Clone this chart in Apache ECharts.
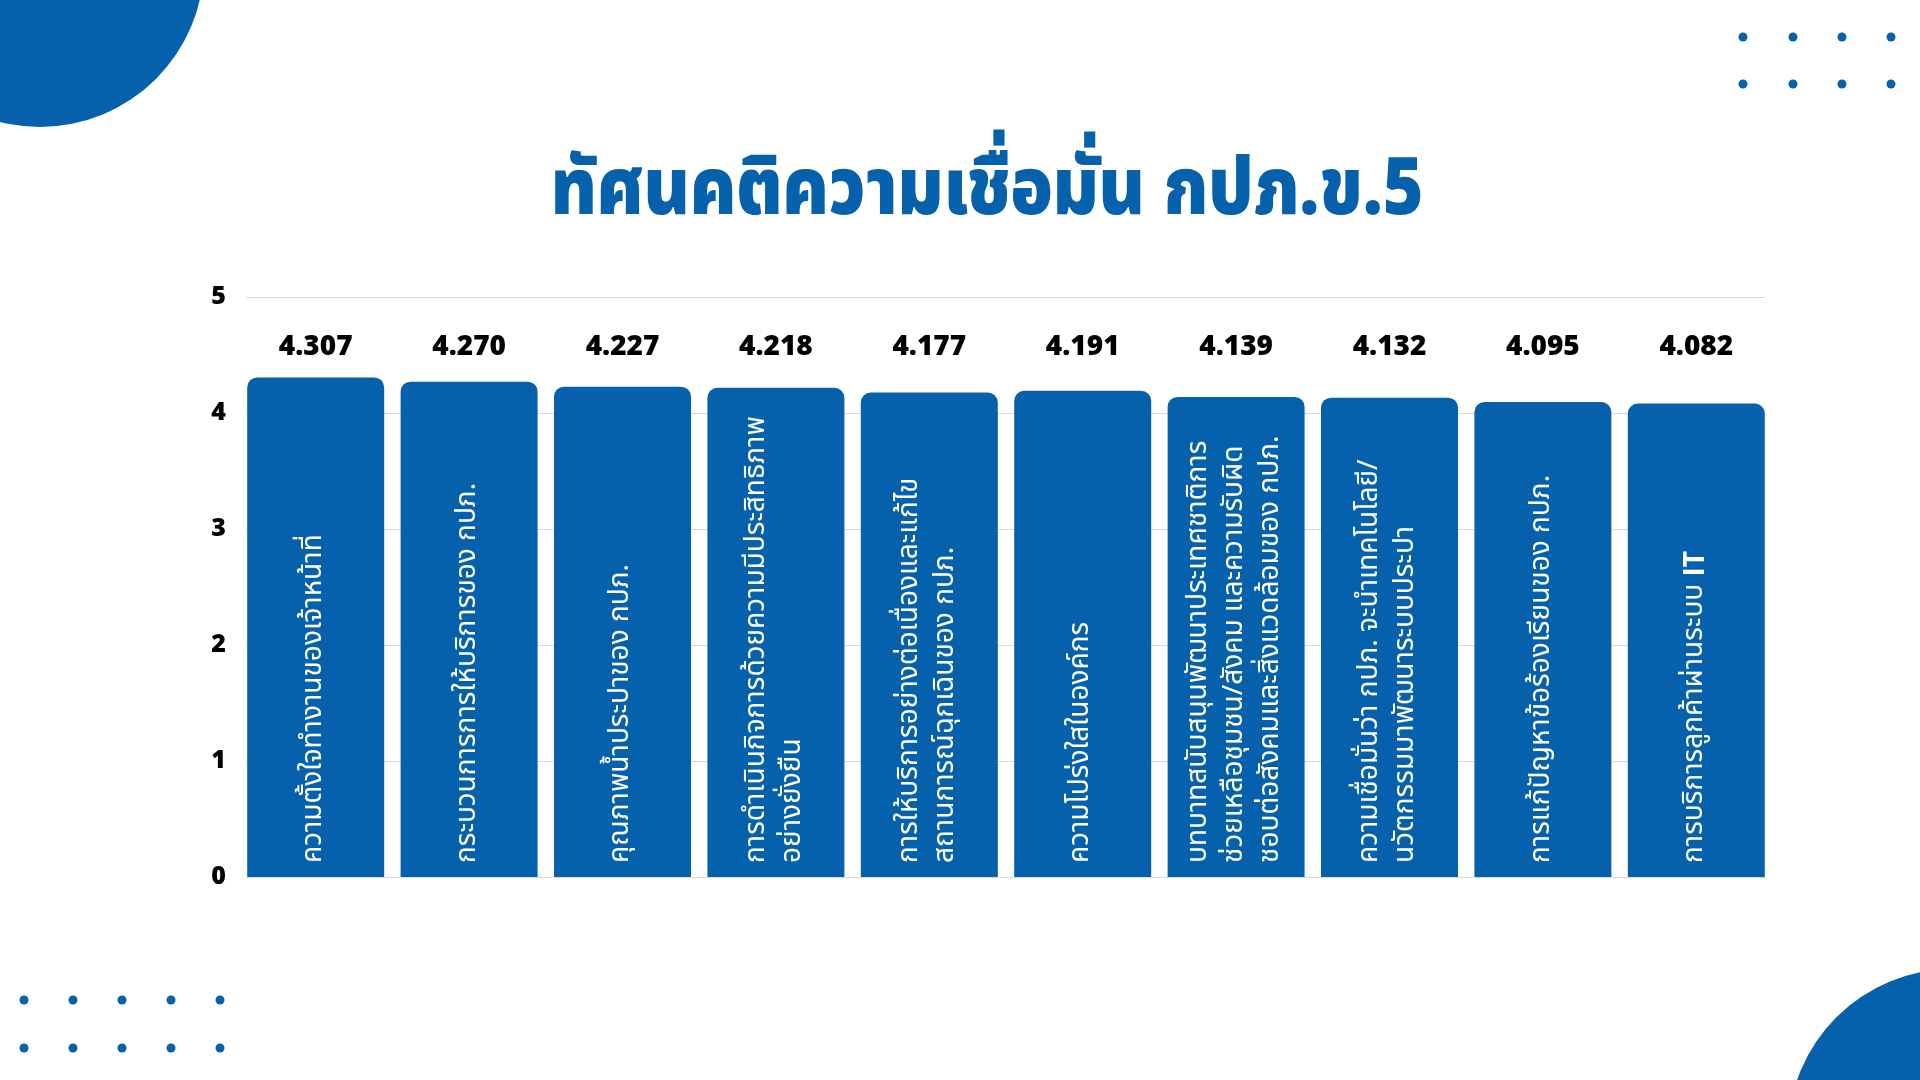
<!DOCTYPE html>
<html>
<head>
<meta charset="utf-8">
<script src="https://cdn.jsdelivr.net/npm/echarts@6/dist/echarts.min.js"></script>
<style>
html,body{margin:0;padding:0;background:#fff;}
#chart{width:1920px;height:1080px;}
</style>
</head>
<body>
<div id="chart"></div>
<script>
const titleText = 'ทัศนคติความเชื่อมั่น กปภ.ข.5';
const categories = [
  'ความตั้งใจทำงานของเจ้าหน้าที่',
  'กระบวนการการให้บริการของ กปภ.',
  'คุณภาพน้ำประปาของ กปภ.',
  'การดำเนินกิจการด้วยความมีประสิทธิภาพ\nอย่างยั่งยืน',
  'การให้บริการอย่างต่อเนื่องและแก้ไข\nสถานการณ์ฉุกเฉินของ กปภ.',
  'ความโปร่งใสในองค์กร',
  'บทบาทสนับสนุนพัฒนาประเทศชาติการ\nช่วยเหลือชุมชน/สังคม และความรับผิด\nชอบต่อสังคมและสิ่งแวดล้อมของ กปภ.',
  'ความเชื่อมั่นว่า กปภ. จะนำเทคโนโลยี/\nนวัตกรรมมาพัฒนาระบบประปา',
  'การแก้ปัญหาข้อร้องเรียนของ กปภ.',
  'การบริการลูกค้าผ่านระบบ {b|IT}'
];
const values = [4.307, 4.270, 4.227, 4.218, 4.177, 4.191, 4.139, 4.132, 4.095, 4.082];
const yTicks = [0, 1, 2, 3, 4, 5];

const BLUE = '#0661AD';
const thaiFont = '"Noto Sans Thai", "Noto Sans Thai Looped", "Noto Sans", sans-serif';
const latinFont = '"Open Sans", "Noto Sans", sans-serif';

const chart = echarts.init(document.getElementById('chart'), null, {renderer: 'canvas'});

const dots = [];
[37, 84].forEach(y => [1743, 1793, 1842, 1891].forEach(x => dots.push({type: 'circle', shape: {cx: x, cy: y, r: 4.5}, style: {fill: BLUE}, silent: true})));
[1000, 1048].forEach(y => [24, 73, 122, 171, 220].forEach(x => dots.push({type: 'circle', shape: {cx: x, cy: y, r: 4.5}, style: {fill: BLUE}, silent: true})));

const yMin = yTicks[0], yMax = yTicks[yTicks.length - 1];

chart.setOption({
  backgroundColor: '#ffffff',
  animation: false,
  graphic: [
    {type: 'circle', shape: {cx: 40, cy: -37, r: 164}, style: {fill: BLUE}, silent: true, z: -1},
    {type: 'circle', shape: {cx: 1953, cy: 1134, r: 165}, style: {fill: BLUE}, silent: true, z: -1},
    ...dots,
    {type: 'text', x: 987, y: 198, scaleX: 0.87, silent: true,
      style: {text: titleText, fill: BLUE, font: '900 80px ' + thaiFont, textAlign: 'center', textVerticalAlign: 'middle'}}
  ],
  grid: [
    {left: 246, right: 155, top: 297, bottom: 203},
    {left: 239, right: 147, top: 297, bottom: 203}
  ],
  xAxis: [
    {type: 'category', gridIndex: 0, data: categories.map((c, i) => i), axisLine: {show: true, lineStyle: {color: '#d9d9d9'}}, axisTick: {show: false}, axisLabel: {show: false}},
    {type: 'category', gridIndex: 1, data: categories.map((c, i) => i), show: false},
    {type: 'category', gridIndex: 1, position: 'top', data: values.map(v => v.toFixed(3)), axisLine: {show: false}, axisTick: {show: false},
      axisLabel: {inside: true, margin: 36, color: '#000', fontSize: 28, fontWeight: 800, fontFamily: latinFont}}
  ],
  yAxis: [
    {type: 'value', gridIndex: 0, min: yMin, max: yMax, interval: 1,
      axisLine: {show: false}, axisTick: {show: false},
      splitLine: {lineStyle: {color: '#d9d9d9', width: 1}},
      axisLabel: {color: '#000', fontSize: 25, fontWeight: 800, margin: 20, fontFamily: latinFont}},
    {type: 'value', gridIndex: 1, min: yMin, max: yMax, interval: 1, show: false, splitLine: {show: false}}
  ],
  series: [{
    type: 'bar',
    xAxisIndex: 1, yAxisIndex: 1,
    data: values,
    barCategoryGap: '10.7%',
    itemStyle: {color: BLUE, borderRadius: [10, 10, 0, 0]},
    label: {
      show: true, position: 'insideBottom', rotate: 90, align: 'left', verticalAlign: 'middle', distance: 14,
      formatter: p => categories[p.dataIndex],
      color: '#fff', fontSize: 28, lineHeight: 36, fontFamily: thaiFont,
      rich: {b: {fontWeight: 'bold', color: '#fff', fontSize: 28, fontFamily: latinFont}}
    }
  }]
});
</script>
</body>
</html>
